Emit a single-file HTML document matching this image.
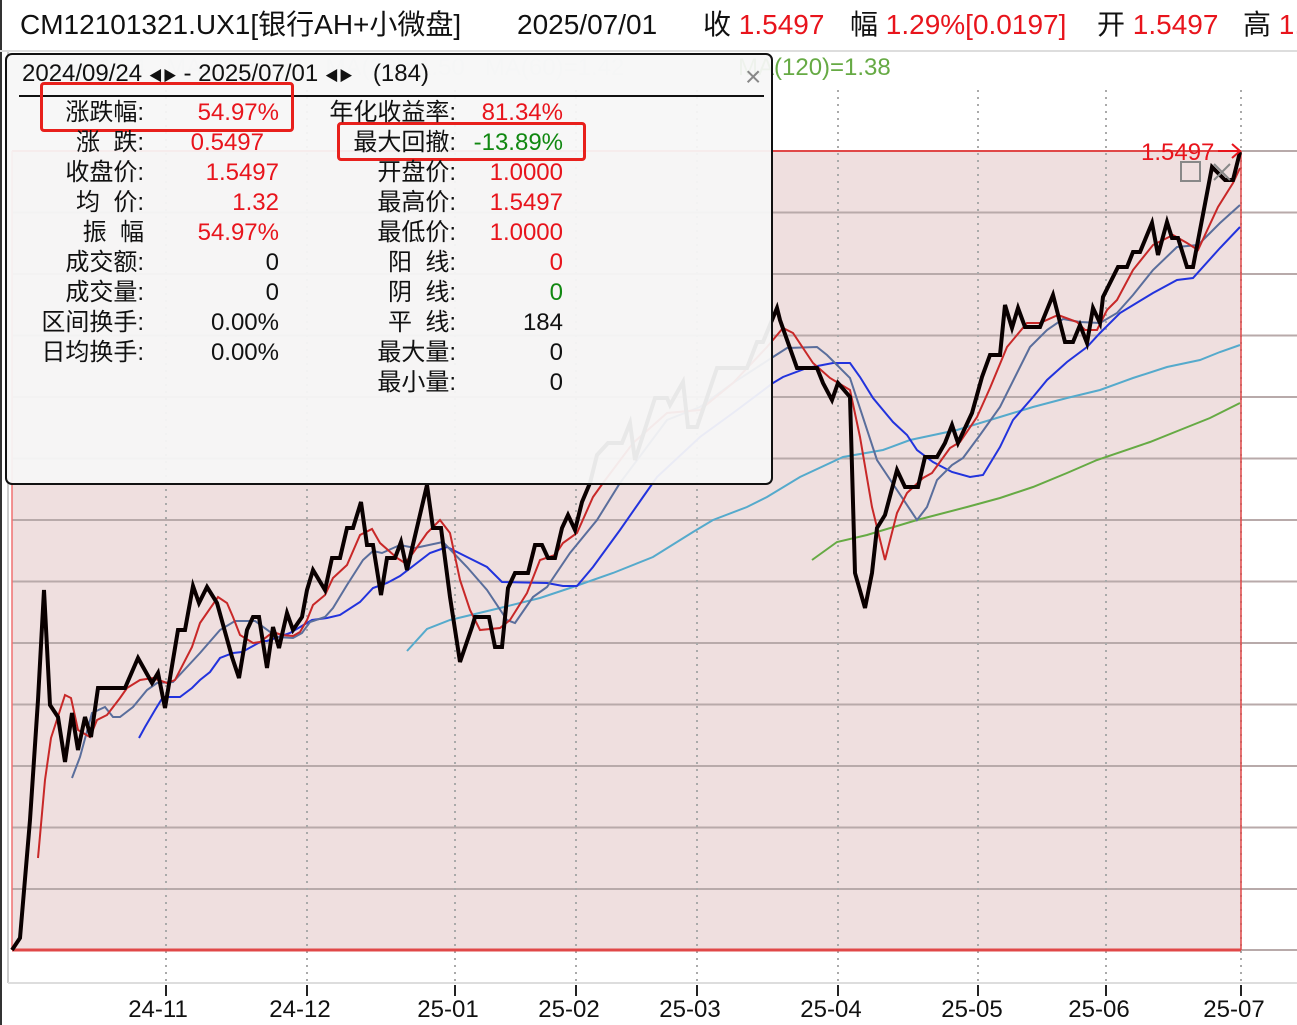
<!DOCTYPE html>
<html><head><meta charset="utf-8"><style>
html,body{margin:0;padding:0;background:#fff;width:1297px;height:1025px;overflow:hidden;position:relative;font-family:"Liberation Sans","Noto Sans CJK SC",sans-serif}
.t{position:absolute;white-space:nowrap;line-height:1}
.h{font-size:28px;top:11px;color:#111}
.pop{position:absolute;left:5px;top:53px;width:764px;height:428px;background:rgba(247,247,247,0.94);border:2px solid #111;border-radius:7px}
.pl{position:absolute;font-size:24px;line-height:1;white-space:nowrap;color:#111}
.r,.pl.r,.t .r{color:#e8141c}
.g{color:#118811 !important}
.ax{position:absolute;font-size:24px;top:996px;color:#111;transform:translateX(-50%)}
</style></head><body>
<svg width="1297" height="1025" style="position:absolute;left:0;top:0">
<line x1="1" y1="0" x2="1" y2="1025" stroke="#333" stroke-width="2"/>
<line x1="0" y1="51" x2="1297" y2="51" stroke="#ddd" stroke-width="2"/>
<line x1="8" y1="52" x2="8" y2="983" stroke="#ccc" stroke-width="2"/>
<line x1="8" y1="983" x2="1297" y2="983" stroke="#ddd" stroke-width="2"/>
<rect x="12" y="151" width="1229" height="799" fill="#efdfdf"/>
<g stroke="#b8aaaa" stroke-width="2">
<line x1="12" y1="212.5" x2="1297" y2="212.5"/><line x1="12" y1="274" x2="1297" y2="274"/><line x1="12" y1="335.5" x2="1297" y2="335.5"/><line x1="12" y1="397" x2="1297" y2="397"/><line x1="12" y1="458.5" x2="1297" y2="458.5"/><line x1="12" y1="520" x2="1297" y2="520"/><line x1="12" y1="581.5" x2="1297" y2="581.5"/><line x1="12" y1="643" x2="1297" y2="643"/><line x1="12" y1="704.5" x2="1297" y2="704.5"/><line x1="12" y1="766" x2="1297" y2="766"/><line x1="12" y1="827.5" x2="1297" y2="827.5"/><line x1="12" y1="889" x2="1297" y2="889"/>
<line x1="1241" y1="151" x2="1297" y2="151"/><line x1="1241" y1="950" x2="1297" y2="950"/>
</g>
<g stroke="#aaa" stroke-width="2" stroke-dasharray="2,5">
<line x1="166" y1="90" x2="166" y2="983"/><line x1="307" y1="90" x2="307" y2="983"/><line x1="455" y1="90" x2="455" y2="983"/><line x1="576" y1="90" x2="576" y2="983"/><line x1="697" y1="90" x2="697" y2="983"/><line x1="838" y1="90" x2="838" y2="983"/><line x1="978" y1="90" x2="978" y2="983"/><line x1="1106" y1="90" x2="1106" y2="983"/><line x1="1241" y1="90" x2="1241" y2="983"/>
</g>
<g stroke="#222" stroke-width="2">
<line x1="166" y1="985" x2="166" y2="996"/><line x1="307" y1="985" x2="307" y2="996"/><line x1="455" y1="985" x2="455" y2="996"/><line x1="576" y1="985" x2="576" y2="996"/><line x1="697" y1="985" x2="697" y2="996"/><line x1="838" y1="985" x2="838" y2="996"/><line x1="978" y1="985" x2="978" y2="996"/><line x1="1106" y1="985" x2="1106" y2="996"/><line x1="1241" y1="985" x2="1241" y2="996"/>
</g>
<line x1="12" y1="151" x2="1241" y2="151" stroke="#e04848" stroke-width="2"/>
<line x1="12" y1="950" x2="1241" y2="950" stroke="#e04848" stroke-width="3"/>
<line x1="12" y1="151" x2="12" y2="950" stroke="#f07070" stroke-width="1.5"/>
<line x1="1241" y1="151" x2="1241" y2="950" stroke="#e04848" stroke-width="1.5"/>
<polyline fill="none" stroke="#66aa44" stroke-width="2" points="812,560 837,542 867,535 917,520 967,507 1000,498 1033,487 1067,473 1097,460 1150,442 1180,430 1210,418 1240,403"/>
<polyline fill="none" stroke="#55aacc" stroke-width="2" points="407,651 427,629 450,620 500,608 540,598 573,587 613,573 653,557 693,532 713,520 747,507 767,497 800,477 843,457 883,450 910,440 957,430 1000,417 1033,407 1067,398 1100,390 1133,378 1167,367 1200,360 1220,352 1240,345"/>
<polyline fill="none" stroke="#2233dd" stroke-width="2" points="139,738 145,727 155,710 163,697 180,697 192,688 200,680 210,672 220,658 233,653 242,652 262,641 267,641 290,633 312,620 327,618 340,615 360,602 373,588 387,583 400,576 430,553 447,547 467,557 487,567 502,582 547,583 563,586 577,586 593,567 620,530 643,497 657,477 700,437 733,413 773,383 783,377 807,368 833,363 850,363 860,377 873,398 893,422 907,435 917,450 933,462 952,472 970,477 983,475 1000,447 1013,420 1033,397 1047,380 1067,362 1087,347 1100,333 1120,313 1153,293 1177,280 1193,278 1220,248 1240,227"/>
<polyline fill="none" stroke="#5a6e9c" stroke-width="2" points="72,778 80,757 92,713 105,707 113,717 120,717 133,707 147,690 157,683 173,682 200,653 220,630 235,621 255,621 277,637 293,638 302,633 310,622 325,617 333,608 347,585 363,560 373,551 382,553 400,545 415,548 443,542 467,567 487,590 507,620 515,623 533,597 547,587 570,553 597,520 620,483 667,420 700,407 733,383 773,357 787,348 817,347 827,355 850,378 877,460 917,520 927,507 937,480 952,465 963,458 980,435 1000,407 1030,347 1047,330 1063,319 1080,322 1100,323 1117,313 1133,295 1153,270 1177,247 1198,245 1220,223 1240,205"/>
<polyline fill="none" stroke="#c82828" stroke-width="2" points="38,858 45,780 51,738 65,695 71,698 78,730 90,737 97,720 107,715 120,698 127,688 140,680 153,678 167,683 175,680 192,647 200,623 218,597 227,603 233,617 240,635 253,643 260,642 273,632 282,635 293,636 300,632 307,620 313,605 325,595 333,578 347,565 360,535 372,529 380,543 397,558 405,563 413,553 427,533 440,520 450,533 460,580 470,610 480,630 500,628 510,620 527,593 540,560 555,555 563,543 577,533 593,497 603,483 633,443 667,413 700,410 733,383 767,347 783,328 793,333 813,363 830,378 850,390 860,437 872,507 885,560 897,513 907,493 923,478 932,473 950,448 960,442 977,417 990,388 1007,347 1027,323 1040,323 1058,315 1077,322 1085,330 1097,330 1107,310 1117,300 1133,270 1153,245 1173,235 1187,243 1198,250 1218,207 1233,183 1240,168"/>
<polyline fill="none" stroke="#0a0000" stroke-width="4" stroke-linejoin="miter" points="12,950 20,938 30,820 38,700 44,590 50,705 58,717 65,762 72,713 78,750 85,717 91,737 98,688 125,688 138,658 152,683 158,673 165,708 178,630 185,630 193,586 199,603 207,587 217,603 232,657 239,678 247,630 253,617 259,617 267,668 273,627 279,648 287,613 293,630 302,617 307,590 313,570 325,590 332,558 340,558 347,528 353,528 361,502 367,545 373,545 381,595 387,558 395,558 401,542 407,570 427,485 433,528 441,528 450,597 460,662 472,627 475,617 489,617 495,647 502,647 508,588 515,573 528,573 535,545 542,545 548,558 555,558 562,528 568,515 575,530 582,502 590,483 597,455 608,443 622,443 630,423 635,460 655,398 667,398 670,405 683,382 688,427 697,427 717,368 747,368 757,342 763,342 777,308 780,320 797,368 817,368 823,383 832,400 838,383 850,397 855,573 865,608 872,573 877,528 885,515 897,470 905,487 918,487 925,457 937,457 945,443 952,425 958,443 972,413 982,377 990,355 1000,355 1005,305 1012,328 1018,308 1025,327 1040,327 1053,295 1065,342 1073,342 1080,325 1087,343 1093,308 1100,323 1103,297 1118,267 1127,267 1133,252 1140,252 1152,223 1158,255 1167,222 1172,238 1178,238 1187,267 1193,267 1212,167 1225,180 1233,180 1240,152"/>
<rect x="1181" y="162" width="19" height="19" fill="none" stroke="#888" stroke-width="2"/>
<path d="M1214,164 L1230,180 M1230,164 L1214,180" stroke="#888" stroke-width="2"/>
<path d="M1218,151 L1239,151 M1232,144 L1240,151 L1232,158" stroke="#e8141c" stroke-width="2" fill="none"/>
</svg>
<div class="t" style="left:1141px;top:141px;font-size:24px;color:#e8141c">1.5497</div>
<div class="t" style="left:20px;top:56px;font-size:24px;color:#dfe3ee">MA(5)=1.54&nbsp;&nbsp;&nbsp;MA(10)=1.51&nbsp;&nbsp;&nbsp;MA(20)=1.50&nbsp;&nbsp;&nbsp;MA(60)=1.42&nbsp;&nbsp;&nbsp;</div>
<div class="t" style="left:738px;top:56px;font-size:24px;color:#66aa44">MA(120)=1.38</div>

<div class="t h" style="left:20px">CM12101321.UX1[银行AH+小微盘]</div>
<div class="t h" style="left:517px">2025/07/01</div>
<div class="t h" style="left:703px">收 <span class="r">1.5497</span></div>
<div class="t h" style="left:850px">幅 <span class="r">1.29%[0.0197]</span></div>
<div class="t h" style="left:1097px">开 <span class="r">1.5497</span></div>
<div class="t h" style="left:1243px">高 <span class="r">1.5</span></div>

<div class="pop">
<div class="pl" style="left:15px;top:7px">2024/09/24 <span style="font-size:14px">◀▶</span> - 2025/07/01 <span style="font-size:14px">◀▶</span>&nbsp;&nbsp;&nbsp;(184)</div>
<div style="position:absolute;left:12px;top:40px;width:745px;height:2px;background:#111"></div>
<div class="pl" style="left:738px;top:8px;font-size:28px;color:#888">×</div>
</div>
<div style="position:absolute;left:40px;top:82px;width:248px;height:44px;border:3px solid #e8201c;border-radius:4px"></div>
<div style="position:absolute;left:337px;top:122px;width:243px;height:33px;border:3px solid #e8201c;border-radius:4px"></div>

<div class="pl" style="right:1153px;top:101px">涨跌幅:</div><div class="pl r" style="right:1018px;top:101px">54.97%</div>
<div class="pl" style="right:1153px;top:131px">涨&nbsp;&nbsp;跌:</div><div class="pl r" style="right:1033px;top:131px">0.5497</div>
<div class="pl" style="right:1153px;top:161px">收盘价:</div><div class="pl r" style="right:1018px;top:161px">1.5497</div>
<div class="pl" style="right:1153px;top:191px">均&nbsp;&nbsp;价:</div><div class="pl r" style="right:1018px;top:191px">1.32</div>
<div class="pl" style="right:1153px;top:221px">振&nbsp;&nbsp;幅</div><div class="pl r" style="right:1018px;top:221px">54.97%</div>
<div class="pl" style="right:1153px;top:251px">成交额:</div><div class="pl" style="right:1018px;top:251px">0</div>
<div class="pl" style="right:1153px;top:281px">成交量:</div><div class="pl" style="right:1018px;top:281px">0</div>
<div class="pl" style="right:1153px;top:311px">区间换手:</div><div class="pl" style="right:1018px;top:311px">0.00%</div>
<div class="pl" style="right:1153px;top:341px">日均换手:</div><div class="pl" style="right:1018px;top:341px">0.00%</div>

<div class="pl" style="right:841px;top:101px">年化收益率:</div><div class="pl r" style="right:734px;top:101px">81.34%</div>
<div class="pl" style="right:841px;top:131px">最大回撤:</div><div class="pl g" style="right:734px;top:131px">-13.89%</div>
<div class="pl" style="right:841px;top:161px">开盘价:</div><div class="pl r" style="right:734px;top:161px">1.0000</div>
<div class="pl" style="right:841px;top:191px">最高价:</div><div class="pl r" style="right:734px;top:191px">1.5497</div>
<div class="pl" style="right:841px;top:221px">最低价:</div><div class="pl r" style="right:734px;top:221px">1.0000</div>
<div class="pl" style="right:841px;top:251px">阳&nbsp;&nbsp;线:</div><div class="pl r" style="right:734px;top:251px">0</div>
<div class="pl" style="right:841px;top:281px">阴&nbsp;&nbsp;线:</div><div class="pl g" style="right:734px;top:281px">0</div>
<div class="pl" style="right:841px;top:311px">平&nbsp;&nbsp;线:</div><div class="pl" style="right:734px;top:311px">184</div>
<div class="pl" style="right:841px;top:341px">最大量:</div><div class="pl" style="right:734px;top:341px">0</div>
<div class="pl" style="right:841px;top:371px">最小量:</div><div class="pl" style="right:734px;top:371px">0</div>

<div class="ax" style="left:158px">24-11</div>
<div class="ax" style="left:300px">24-12</div>
<div class="ax" style="left:448px">25-01</div>
<div class="ax" style="left:569px">25-02</div>
<div class="ax" style="left:690px">25-03</div>
<div class="ax" style="left:831px">25-04</div>
<div class="ax" style="left:972px">25-05</div>
<div class="ax" style="left:1099px">25-06</div>
<div class="ax" style="left:1234px">25-07</div>
</body></html>
